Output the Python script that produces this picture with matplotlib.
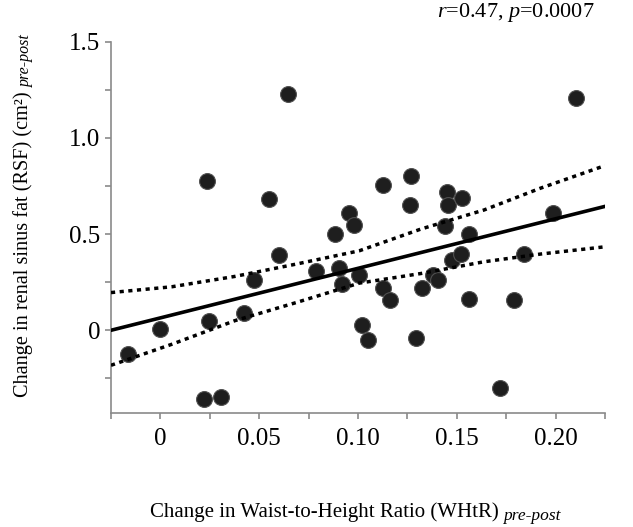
import matplotlib
matplotlib.use("Agg")
import matplotlib.pyplot as plt

plt.rcParams["font.family"] = ["Liberation Serif", "DejaVu Serif"]
plt.rcParams["mathtext.fontset"] = "custom"
plt.rcParams["mathtext.rm"] = "Liberation Serif"
plt.rcParams["mathtext.it"] = "Liberation Serif:italic"

# change in WHtR (x) and change in RSF (y), pre-post
whtr = [-0.0166, 0.0, 0.022, 0.0237, 0.0247, 0.0307, 0.0423, 0.0472, 0.0548,
        0.060, 0.0647, 0.0785, 0.0882, 0.0902, 0.0917, 0.0956, 0.098, 0.1007,
        0.1018, 0.1052, 0.1128, 0.1129, 0.1161, 0.1262, 0.1267, 0.1295,
        0.1326, 0.1381, 0.1406, 0.144, 0.1449, 0.1457, 0.1477, 0.1519,
        0.1527, 0.1561, 0.1561, 0.1721, 0.1791, 0.1838, 0.1986, 0.2105]
rsf = [-0.125, 0.005, -0.359, 0.778, 0.048, -0.347, 0.092, 0.262, 0.682,
       0.392, 1.229, 0.309, 0.50, 0.326, 0.243, 0.608, 0.545, 0.286,
       0.026, -0.050, 0.219, 0.757, 0.156, 0.651, 0.80, -0.038,
       0.222, 0.286, 0.262, 0.543, 0.717, 0.653, 0.366, 0.396,
       0.686, 0.503, 0.161, -0.299, 0.158, 0.396, 0.609, 1.208]

# regression line and 95% CI bands
fit_x = [-0.025, 0.225]
fit_y = [0.0, 0.644]
band_x = [-0.025, 0.0057, 0.0377, 0.0687, 0.1006, 0.1318, 0.1637, 0.1922, 0.225]
upper_y = [0.196, 0.226, 0.28, 0.344, 0.413, 0.526, 0.625, 0.738, 0.856]
lower_y = [-0.182, -0.073, 0.05, 0.144, 0.245, 0.295, 0.356, 0.396, 0.434]

xticks = [0, 0.05, 0.10, 0.15, 0.20]
xtick_labels = ["0", "0.05", "0.10", "0.15", "0.20"]
yticks = [0, 0.5, 1.0, 1.5]
ytick_labels = ["0", "0.5", "1.0", "1.5"]

W, H = 633, 527
fig = plt.figure(figsize=(W / 100, H / 100), dpi=100)
ax = fig.add_axes([111 / W, 1 - 413 / H, 494 / W, 371.3 / H])

ax.scatter(whtr, rsf, s=130, color="#1e1e1e", edgecolors="#505050",
           linewidths=0.8, zorder=2)
ax.plot(fit_x, fit_y, color="black", lw=2.6, zorder=3)
ax.plot(band_x, upper_y, color="black", lw=2.5, ls=(0, (1.2, 1.3)), zorder=3)
ax.plot(band_x, lower_y, color="black", lw=2.5, ls=(0, (1.2, 1.3)), zorder=3)

ax.set_xlim(-0.025, 0.225)
ax.set_ylim(-0.43, 1.5)
ax.set_xticks(xticks)
ax.set_xticklabels(xtick_labels)
ax.set_xticks([-0.025, 0.025, 0.075, 0.125, 0.175, 0.225], minor=True)
ax.set_yticks(yticks)
ax.set_yticklabels(ytick_labels)
ax.set_yticks([-0.25, 0.25, 0.75, 1.25], minor=True)

for s in ["top", "right"]:
    ax.spines[s].set_visible(False)
for s in ["left", "bottom"]:
    ax.spines[s].set_color("#8a8a8a")
    ax.spines[s].set_linewidth(1.2)
ax.tick_params(which="both", color="#8a8a8a", width=1.2, length=4.5)
ax.tick_params(axis="x", labelsize=18, pad=6)
ax.tick_params(axis="y", labelsize=18, pad=3)

# x label with italic subscript
xl = fig.text(150 / W, 1 - 516.5 / H, "Change in Waist-to-Height Ratio (WHtR)",
              fontsize=15, ha="left", va="baseline")
yl = fig.text(28 / W, 1 - 397 / H, "Change in renal sinus fat (RSF) (cm²)",
              fontsize=14.6, rotation=90, rotation_mode="anchor",
              ha="left", va="baseline")
fig.canvas.draw()
r = fig.canvas.get_renderer()
bx = xl.get_window_extent(r)
fig.text(bx.x1 / W + 4 / W, 1 - 520 / H, "pre-post", fontsize=12.5,
         style="italic", ha="left", va="baseline")
by = yl.get_window_extent(r)
fig.text(30 / W, by.y1 / H + 4 / H, "pre-post", fontsize=11.5,
         style="italic", rotation=90, rotation_mode="anchor",
         ha="left", va="baseline")

fig.text(595 / W, 1 - 17.5 / H, "$r$=0.47, $p$=0.0007", fontsize=16,
         ha="right", va="baseline")

fig.savefig("out.png", dpi=100)
